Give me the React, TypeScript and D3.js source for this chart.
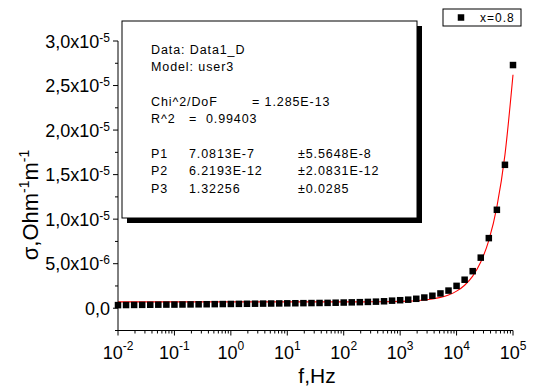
import React, { useRef, useEffect } from "react";
import * as d3 from "d3";

// frequencies, Hz
const freqs = [
  0.01, 0.01389, 0.01931, 0.02683, 0.03728, 0.05179, 0.07197,
  0.1, 0.1389, 0.1931, 0.2683, 0.3728, 0.5179, 0.7197,
  1, 1.389, 1.931, 2.683, 3.728, 5.179, 7.197,
  10, 13.89, 19.31, 26.83, 37.28, 51.79, 71.97,
  100, 138.9, 193.1, 268.3, 372.8, 517.9, 719.7,
  1000, 1389, 1931, 2683, 3728, 5179, 7197,
  10000, 13890, 19310, 26830, 37280, 51790, 71970,
  100000,
];

// conductivity, x1e-6 Ohm^-1 m^-1
const sigmaMicro = [
  0.35, 0.36, 0.37, 0.38, 0.39, 0.4, 0.41,
  0.41, 0.42, 0.43, 0.44, 0.45, 0.46, 0.47,
  0.48, 0.49, 0.5, 0.51, 0.52, 0.53, 0.54,
  0.55, 0.56, 0.57, 0.58, 0.59, 0.6, 0.62,
  0.64, 0.66, 0.68, 0.71, 0.74, 0.78, 0.85,
  0.9, 0.96, 1.06, 1.2, 1.4, 1.66, 1.98,
  2.51, 3.2, 4.16, 5.68, 7.87, 11.05, 16.1,
  27.3,
];

// fit parameters P1, P2, P3 (model: P1 + P2 * f^P3)
const fitParams = [7.0813e-7, 6.2193e-12, 1.32256];

const xTickExps = [-2, -1, 0, 1, 2, 3, 4, 5];
const yTickValues = [0, 5e-6, 1e-5, 1.5e-5, 2e-5, 2.5e-5, 3e-5];
const yTickMantissa = ["0,0", "5,0x10", "1,0x10", "1,5x10", "2,0x10", "2,5x10", "3,0x10"];
const yTickExp = ["", "-6", "-5", "-5", "-5", "-5", "-5"];

const statsHeader = ["Data: Data1_D", "Model: user3"];
const paramNames = ["P1", "P2", "P3"];
const paramValues = ["7.0813E-7", "6.2193E-12", "1.32256"];
const paramErrors = ["\u00b15.5648E-8", "\u00b12.0831E-12", "\u00b10.0285"];

const FONT = "Arial, 'Liberation Sans', sans-serif";

const App = () => {
  const ref = useRef<SVGSVGElement>(null);

  useEffect(() => {
    const svg = d3.select(ref.current);
    svg.selectAll("*").remove();

    const x = d3.scaleLog().domain([1e-2, 1e5]).range([118, 513]);
    const y = d3.scaleLinear().domain([-2.5e-6, 3e-5]).range([330.5, 41]);

    const data = freqs.map((f, i) => ({ f, v: sigmaMicro[i] * 1e-6 }));

    // stats box (drawn first, under the data)
    const box = { x: 122, y: 21, w: 295, h: 197 };
    svg.append("rect")
      .attr("x", box.x + 5).attr("y", box.y + 5)
      .attr("width", box.w).attr("height", box.h)
      .attr("fill", "#000");
    svg.append("rect")
      .attr("x", box.x).attr("y", box.y)
      .attr("width", box.w).attr("height", box.h)
      .attr("fill", "#fff").attr("stroke", "#000").attr("stroke-width", 1);

    const st = svg.append("g")
      .style("font-family", FONT)
      .style("font-size", "12.5px")
      .style("letter-spacing", "0.9px")
      .attr("fill", "#000");
    statsHeader.forEach((t, i) => {
      st.append("text").attr("x", 151).attr("y", 53.5 + i * 17.4).text(t);
    });
    st.append("text").attr("x", 151).attr("y", 106).text("Chi^2/DoF");
    st.append("text").attr("x", 252).attr("y", 106).text("= 1.285E-13");
    st.append("text").attr("x", 151).attr("y", 123.4).text("R^2");
    st.append("text").attr("x", 189).attr("y", 123.4).attr("xml:space", "preserve").text("=  0.99403");
    paramNames.forEach((p, i) => {
      const yy = 157.6 + i * 17.5;
      st.append("text").attr("x", 151).attr("y", yy).text(p);
      st.append("text").attr("x", 189).attr("y", yy).text(paramValues[i]);
      st.append("text").attr("x", 298).attr("y", yy).text(paramErrors[i]);
    });

    // fit curve
    const [p1, p2, p3] = fitParams;
    const line = d3.line<number>()
      .x((f) => x(f))
      .y((f) => y(p1 + p2 * Math.pow(f, p3)))
      .curve(d3.curveMonotoneX);
    svg.append("path")
      .datum(freqs)
      .attr("d", line)
      .attr("fill", "none")
      .attr("stroke", "#ff0000")
      .attr("stroke-width", 1.1);

    // data points
    const s = 6.5;
    svg.selectAll(".pt")
      .data(data)
      .join("rect")
      .attr("class", "pt")
      .attr("x", (d) => x(d.f) - s / 2)
      .attr("y", (d) => y(d.v) - s / 2)
      .attr("width", s)
      .attr("height", s)
      .attr("fill", "#000");

    // axes
    const axisG = svg.append("g").attr("stroke", "#000").attr("stroke-width", 1);
    const [x0, x1] = x.range();
    const [yb, yt] = y.range();
    axisG.append("line").attr("x1", x0).attr("x2", x0).attr("y1", yt).attr("y2", yb + 0.5);
    axisG.append("line").attr("x1", x0 - 0.5).attr("x2", x1).attr("y1", yb).attr("y2", yb);

    // y ticks
    const yMinor = d3.range(-2.5e-6, 3.01e-5, 2.5e-6);
    yMinor.forEach((v) => {
      const major = yTickValues.some((t) => Math.abs(t - v) < 1e-9);
      axisG.append("line")
        .attr("x1", x0 - (major ? 5 : 3)).attr("x2", x0)
        .attr("y1", y(v)).attr("y2", y(v));
    });

    // x ticks
    xTickExps.forEach((e, i) => {
      const f0 = Math.pow(10, e);
      axisG.append("line")
        .attr("x1", x(f0)).attr("x2", x(f0))
        .attr("y1", yb).attr("y2", yb + 5);
      if (i < xTickExps.length - 1) {
        d3.range(2, 10).forEach((m) => {
          axisG.append("line")
            .attr("x1", x(m * f0)).attr("x2", x(m * f0))
            .attr("y1", yb).attr("y2", yb + 3);
        });
      }
    });

    // tick labels
    const lab = svg.append("g").style("font-family", FONT).attr("fill", "#000");
    yTickValues.forEach((v, i) => {
      const t = lab.append("text")
        .attr("x", 110)
        .attr("y", y(v) + 6.5)
        .attr("text-anchor", "end")
        .style("font-size", "18px");
      t.append("tspan").text(yTickMantissa[i]);
      if (yTickExp[i]) {
        t.append("tspan").attr("dy", -6).style("font-size", "12px").text(yTickExp[i]);
      }
    });
    xTickExps.forEach((e) => {
      const t = lab.append("text")
        .attr("x", x(Math.pow(10, e)))
        .attr("y", 358.5)
        .attr("text-anchor", "middle")
        .style("font-size", "18px");
      t.append("tspan").text("10");
      t.append("tspan").attr("dy", -9).style("font-size", "12px").text(String(e));
    });

    // axis titles
    lab.append("text")
      .attr("x", 317)
      .attr("y", 383)
      .attr("text-anchor", "middle")
      .style("font-size", "21px")
      .text("f,Hz");
    const yl = lab.append("text")
      .attr("transform", "translate(38,205) rotate(-90)")
      .attr("text-anchor", "middle")
      .style("font-size", "22px");
    yl.append("tspan").text("\u03c3,Ohm");
    yl.append("tspan").attr("dy", -9).style("font-size", "14px").text("-1");
    yl.append("tspan").attr("dy", 9).text("m");
    yl.append("tspan").attr("dy", -9).style("font-size", "14px").text("-1");

    // legend
    svg.append("rect")
      .attr("x", 443).attr("y", 9).attr("width", 78).attr("height", 17)
      .attr("fill", "#fff").attr("stroke", "#000").attr("stroke-width", 1);
    svg.append("rect")
      .attr("x", 461 - s / 2).attr("y", 17.5 - s / 2)
      .attr("width", s).attr("height", s).attr("fill", "#000");
    svg.append("text")
      .attr("x", 480).attr("y", 22)
      .style("font-family", FONT)
      .style("font-size", "12px")
      .style("letter-spacing", "1px")
      .text("x=0.8");
  }, []);

  return (
    <svg
      ref={ref}
      width={534}
      height={389}
      style={{ position: "fixed", left: 0, top: 0, background: "#fff" }}
    />
  );
};

export default App;
